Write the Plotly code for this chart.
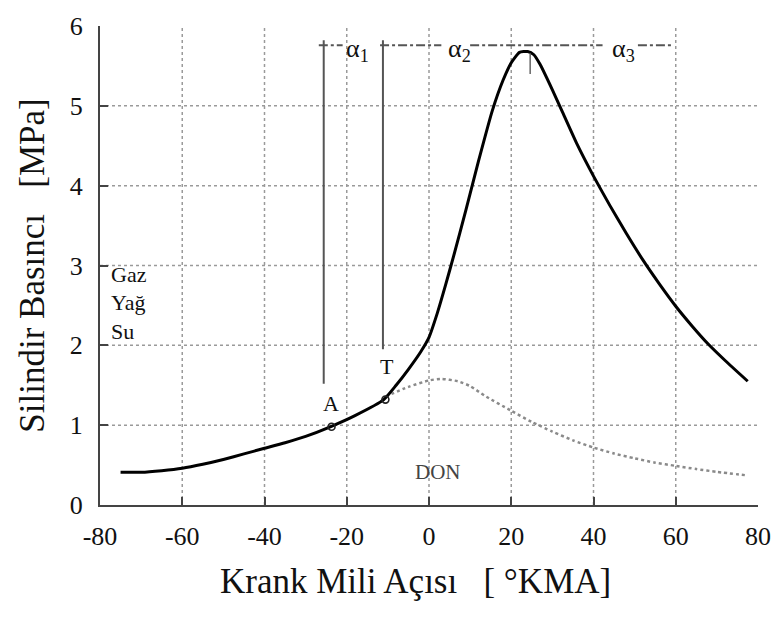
import plotly.graph_objects as go

# Firing (Gaz) pressure curve
fire_x = [-75, -70, -65, -60, -55, -50, -45, -40, -35, -30, -24, -18, -11, -8, -5, -2, 0, 2, 4, 6, 9, 12, 15.4, 18, 20, 22, 24, 25.5,
          27, 30, 32.3, 36, 40, 44, 48, 52, 56, 60, 64, 68, 72, 77.5]
fire_y = [0.41, 0.41, 0.43, 0.46, 0.51, 0.57, 0.64, 0.71, 0.78, 0.86, 0.98, 1.12, 1.32, 1.50, 1.70, 1.92, 2.10, 2.40, 2.75, 3.12, 3.70, 4.30, 4.94, 5.32, 5.54, 5.67, 5.68, 5.64,
          5.52, 5.20, 4.94, 4.52, 4.12, 3.75, 3.40, 3.07, 2.77, 2.49, 2.24, 2.01, 1.81, 1.55]

# Motored (DON) curve
mot_x = [-10.5, -5, 0, 3, 7, 10, 13.5, 20, 25, 30, 35, 40, 45, 50, 55, 60, 65, 70, 77.5]
mot_y = [1.36, 1.48, 1.56, 1.58, 1.55, 1.49, 1.37, 1.18, 1.04, 0.92, 0.81, 0.72, 0.645, 0.585, 0.53, 0.49, 0.45, 0.415, 0.37]

# Points A and T
pt_labels = ["A", "T"]
pt_x = [-23.7, -10.6]
pt_y = [0.98, 1.32]

x_ticks = [-80, -60, -40, -20, 0, 20, 40, 60, 80]
x_ticktext = ["-80", "-60", "-40", "-20", "0", "20", "40", "60", "80"]
y_ticks = [0, 1, 2, 3, 4, 5, 6]
grid_x = [-60, -40, -20, 0, 20, 40, 60]
grid_y = [1, 2, 3, 4, 5]

# Dimension markers
vline_x = [-25.6, -11.2]
vline_top = [5.82, 5.82]
vline_bot = [1.52, 1.95]
dim_y = 5.76
dim_segments = [(-26.8, -21.0), (-11.9, 3.0), (10.0, 42.2), (50.8, 59.4)]
alpha_labels = ["α<sub>1</sub>", "α<sub>2</sub>", "α<sub>3</sub>"]
alpha_x = [-17.3, 7.4, 47.2]

side_labels = ["Gaz", "Yağ", "Su"]
side_y = [2.89, 2.54, 2.17]

SERIF = "Liberation Serif"

fig = go.Figure()

fig.add_trace(go.Scatter(x=mot_x, y=mot_y, mode="lines",
                         line=dict(color="#8a8a8a", width=2.5, dash="dot", shape="spline", smoothing=0.6),
                         showlegend=False, hoverinfo="skip"))
fig.add_trace(go.Scatter(x=fire_x, y=fire_y, mode="lines",
                         line=dict(color="#000000", width=3, shape="spline", smoothing=0.5),
                         showlegend=False))
fig.add_trace(go.Scatter(x=pt_x, y=pt_y, mode="markers",
                         marker=dict(symbol="circle-open", size=7, color="#222", line=dict(width=1.6)),
                         showlegend=False))

shapes = []
for gx in grid_x:
    shapes.append(dict(type="line", xref="x", yref="y", x0=gx, x1=gx, y0=0, y1=6,
                       line=dict(color="#9a9a9a", width=1.5, dash="dot"), layer="below"))
for gy in grid_y:
    shapes.append(dict(type="line", xref="x", yref="y", x0=-80, x1=80, y0=gy, y1=gy,
                       line=dict(color="#9a9a9a", width=1.5, dash="dot"), layer="below"))
for vx, vt, vb in zip(vline_x, vline_top, vline_bot):
    shapes.append(dict(type="line", xref="x", yref="y", x0=vx, x1=vx, y0=vb, y1=vt,
                       line=dict(color="#555", width=2)))
for a, b in dim_segments:
    shapes.append(dict(type="line", xref="x", yref="y", x0=a, x1=b, y0=dim_y, y1=dim_y,
                       line=dict(color="#555", width=2, dash="dashdot")))
# small tick at peak
shapes.append(dict(type="line", xref="x", yref="y", x0=24.6, x1=24.6, y0=5.40, y1=5.66,
                   line=dict(color="#666", width=1.5)))

annotations = []
for lab, ax in zip(alpha_labels, alpha_x):
    annotations.append(dict(x=ax, y=dim_y, xref="x", yref="y", text=lab, showarrow=False,
                            font=dict(family=SERIF, size=26, color="#111"), yshift=-5))
for lab, px, py, dx, dy in zip(pt_labels, pt_x, pt_y, [-1, 2], [23, 33]):
    annotations.append(dict(x=px, y=py, xref="x", yref="y", text=lab, showarrow=False,
                            font=dict(family=SERIF, size=22, color="#111"), xshift=dx, yshift=dy))
annotations.append(dict(x=2.1, y=0.41, xref="x", yref="y", text="DON", showarrow=False,
                        font=dict(family=SERIF, size=21, color="#444")))
for lab, sy in zip(side_labels, side_y):
    annotations.append(dict(x=-77.8, y=sy, xref="x", yref="y", text=lab, showarrow=False, xanchor="left",
                            font=dict(family=SERIF, size=22, color="#111")))
annotations.append(dict(x=-0.103, y=0.50, xref="paper", yref="paper", xanchor="center", yanchor="middle",
                        text="Silindir Basıncı\u00a0\u00a0\u00a0[MPa]", textangle=-90, showarrow=False,
                        font=dict(family=SERIF, size=35, color="#111")))
annotations.append(dict(x=0.48, y=-0.159, xref="paper", yref="paper", xanchor="center", yanchor="middle",
                        text="Krank Mili Açısı\u00a0\u00a0\u00a0[ °KMA]", showarrow=False,
                        font=dict(family=SERIF, size=35, color="#111")))

fig.update_layout(
    width=783, height=617,
    margin=dict(l=100, r=20, t=13, b=112),
    paper_bgcolor="white", plot_bgcolor="white",
    shapes=shapes, annotations=annotations,
    xaxis=dict(range=[-80, 80], tickvals=x_ticks, ticktext=x_ticktext, showgrid=False, zeroline=False,
               showline=True, linecolor="#444", linewidth=2, mirror=False,
               ticks="inside", ticklen=8, tickwidth=2, tickcolor="#444", ticklabeloverflow="allow",
               tickfont=dict(family=SERIF, size=26, color="#111"), ticklabelstandoff=7),
    yaxis=dict(range=[0, 6], tickvals=y_ticks, showgrid=False, zeroline=False,
               showline=True, linecolor="#444", linewidth=2, mirror=False,
               ticks="inside", ticklen=8, tickwidth=2, tickcolor="#444", ticklabeloverflow="allow",
               tickfont=dict(family=SERIF, size=26, color="#111"), ticklabelstandoff=10),
)

fig.write_html("out.html")
